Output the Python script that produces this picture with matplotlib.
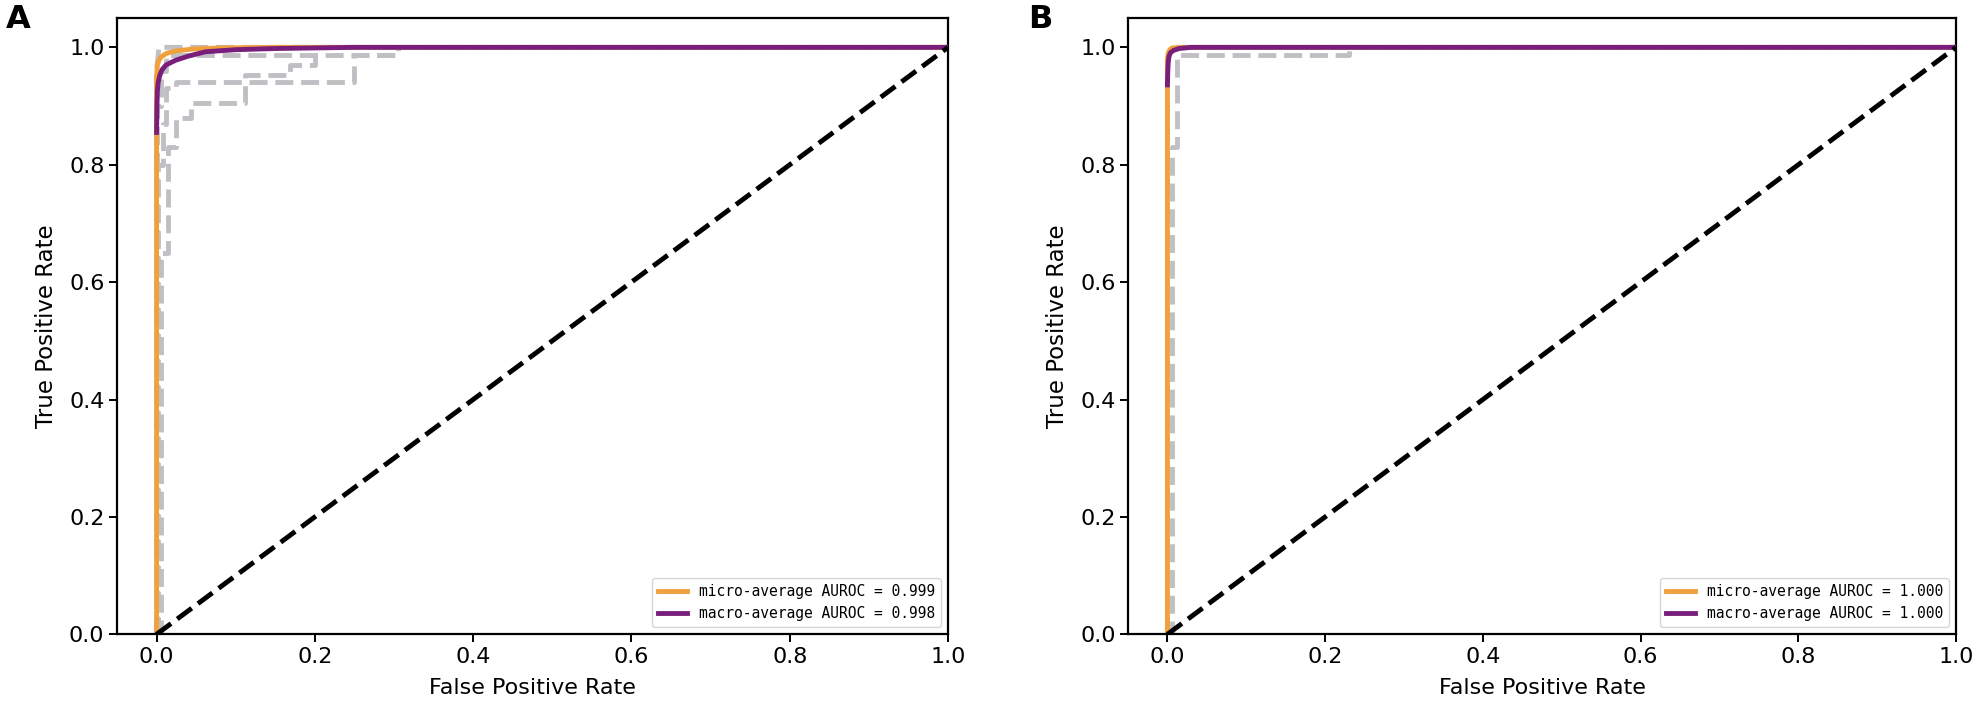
import matplotlib
matplotlib.use("Agg")
import matplotlib.pyplot as plt

W, H, DPI = 1988, 723, 100

# ---------------- Panel A data ----------------
a_micro_fpr = [0, 0, 0.001, 0.003, 0.006, 0.013, 0.025, 0.045, 0.08, 0.15, 1.0]
a_micro_tpr = [0, 0.95, 0.97, 0.978, 0.984, 0.990, 0.994, 0.997, 0.999, 1.0, 1.0]
a_macro_fpr = [0, 0.0005, 0.001, 0.002, 0.004, 0.007, 0.012, 0.024, 0.04, 0.062, 0.1, 0.15, 0.25, 1.0]
a_macro_tpr = [0.855, 0.90, 0.925, 0.94, 0.952, 0.962, 0.970, 0.978, 0.985, 0.9925, 0.996, 0.998, 1.0, 1.0]
a_class_fpr = [
    [0, 0, 0.003, 1.0],
    [0, 0, 0.006, 0.006, 0.012, 0.012, 0.305, 0.305, 1.0],
    [0, 0.002, 0.002, 0.008, 0.008, 0.012, 0.012, 0.025, 0.025, 0.249, 0.249, 0.305, 0.305, 1.0],
    [0, 0.005, 0.005, 0.015, 0.015, 0.025, 0.025, 0.044, 0.044, 0.112, 0.112, 0.169, 0.169, 0.2, 0.2, 1.0],
]
a_class_tpr = [
    [0, 0.96, 1.0, 1.0],
    [0, 0.90, 0.90, 0.96, 0.96, 0.987, 0.987, 1.0, 1.0],
    [0, 0, 0.80, 0.80, 0.87, 0.87, 0.93, 0.93, 0.9416, 0.9416, 0.987, 0.987, 1.0, 1.0],
    [0, 0, 0.65, 0.65, 0.83, 0.83, 0.88, 0.88, 0.905, 0.905, 0.953, 0.953, 0.97, 0.97, 1.0, 1.0],
]
a_auc_micro = 0.999
a_auc_macro = 0.998

# ---------------- Panel B data ----------------
b_micro_fpr = [0, 0, 0.001, 0.003, 0.006, 0.02, 1.0]
b_micro_tpr = [0, 0.98, 0.99, 0.996, 0.999, 1.0, 1.0]
b_macro_fpr = [0, 0.0005, 0.001, 0.002, 0.004, 0.008, 0.015, 0.03, 1.0]
b_macro_tpr = [0.936, 0.96, 0.975, 0.985, 0.991, 0.995, 0.998, 1.0, 1.0]
b_class_fpr = [
    [0, 0, 0.004, 1.0],
    [0, 0.006, 0.006, 0.012, 0.012, 0.23, 0.23, 1.0],
]
b_class_tpr = [
    [0, 0.97, 1.0, 1.0],
    [0, 0, 0.83, 0.83, 0.987, 0.987, 1.0, 1.0],
]
b_auc_micro = 1.000
b_auc_macro = 1.000

panel_letters = ["A", "B"]

ORANGE = "#f0a03c"
PURPLE = "#7a1e7c"
GREY = "#c0c0c4"

plt.rcParams["font.family"] = ["DejaVu Sans"]
fig = plt.figure(figsize=(W / DPI, H / DPI), dpi=DPI)

ax_boxes = [
    (117 / W, 88.7 / H, (948 - 117) / W, (705 - 88.7) / H),
    (1128 / W, 88.7 / H, (1956 - 1128) / W, (705 - 88.7) / H),
]
panels = [
    (a_micro_fpr, a_micro_tpr, a_macro_fpr, a_macro_tpr, a_class_fpr, a_class_tpr, a_auc_micro, a_auc_macro),
    (b_micro_fpr, b_micro_tpr, b_macro_fpr, b_macro_tpr, b_class_fpr, b_class_tpr, b_auc_micro, b_auc_macro),
]
letter_x = [6 / W, 1028 / W]

for i, (box, p) in enumerate(zip(ax_boxes, panels)):
    mf, mt, Mf, Mt, cf, ct, am, aM = p
    ax = fig.add_axes(box)
    for f, t in zip(cf, ct):
        ax.plot(f, t, color=GREY, lw=3.5, ls="--", zorder=1)
    ax.plot(mf, mt, color=ORANGE, lw=3.5, zorder=2,
            label=f"micro-average AUROC = {am:.3f}")
    ax.plot(Mf, Mt, color=PURPLE, lw=3.5, zorder=3,
            label=f"macro-average AUROC = {aM:.3f}")
    ax.plot([0, 1], [0, 1], color="black", lw=3.5, ls="--", zorder=4)
    ax.set_xlim(-0.05, 1.0)
    ax.set_ylim(0.0, 1.05)
    ax.set_xticks([0, 0.2, 0.4, 0.6, 0.8, 1.0])
    ax.set_yticks([0, 0.2, 0.4, 0.6, 0.8, 1.0])
    ax.tick_params(labelsize=16, length=5.5, width=1.4)
    for s in ax.spines.values():
        s.set_linewidth(1.6)
    ax.set_xlabel("False Positive Rate", fontsize=16, labelpad=8)
    ax.set_ylabel("True Positive Rate", fontsize=16.5, labelpad=8)
    leg = ax.legend(loc="lower right", prop={"family": "DejaVu Sans Mono", "size": 10.5},
                    borderaxespad=0.5)
    for line in leg.get_lines():
        line.set_linewidth(3.5)
    fig.text(letter_x[i], 1 - 4 / H, panel_letters[i], fontsize=23, fontweight="bold",
             ha="left", va="top")

fig.savefig("out.png", dpi=DPI)
